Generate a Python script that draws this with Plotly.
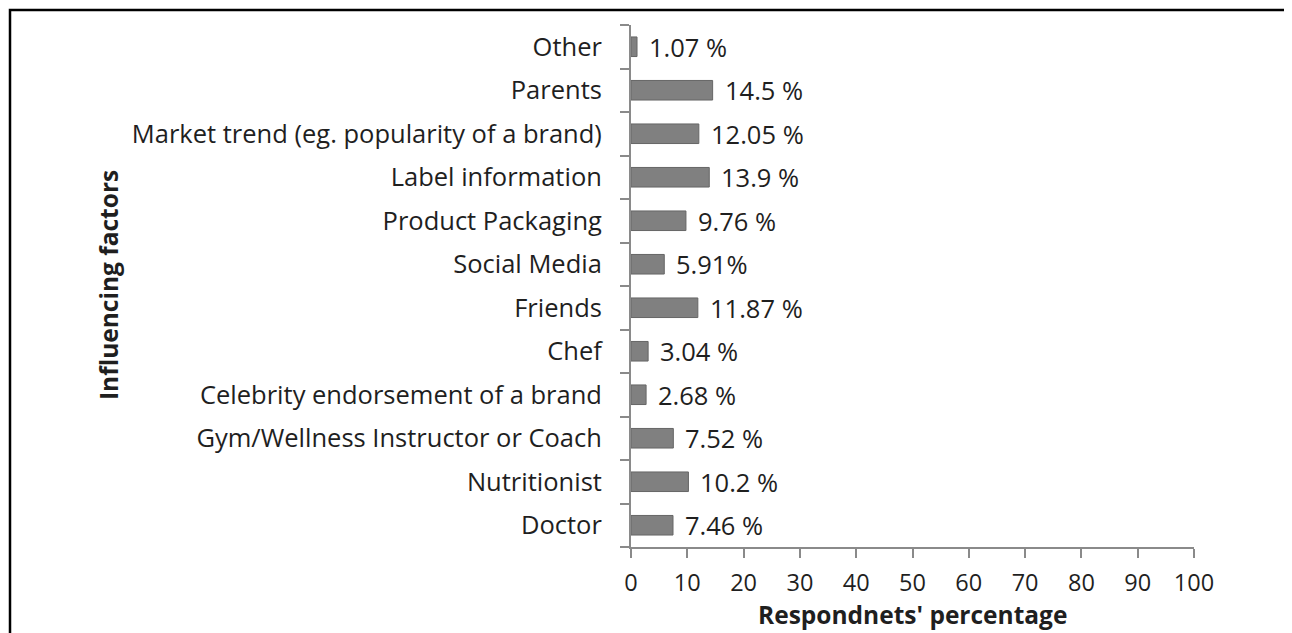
import plotly.graph_objects as go

categories = ["Doctor", "Nutritionist", "Gym/Wellness Instructor or Coach",
              "Celebrity endorsement of a brand", "Chef", "Friends", "Social Media",
              "Product Packaging", "Label information",
              "Market trend (eg. popularity of a brand)", "Parents", "Other"]
values = [7.46, 10.2, 7.52, 2.68, 3.04, 11.87, 5.91, 9.76, 13.9, 12.05, 14.5, 1.07]
labels = ["7.46 %", "10.2 %", "7.52 %", "2.68 %", "3.04 %", "11.87 %", "5.91%",
          "9.76 %", "13.9 %", "12.05 %", "14.5 %", "1.07 %"]
x_ticks = [0, 10, 20, 30, 40, 50, 60, 70, 80, 90, 100]

FONT = "Open Sans"
FS = 24.5
TXT = "#1f1f1f"
AX = "#8a8a8a"
OFF = 8  # page body margin

W, H = 1292, 633
# target plot area in page pixels: x 631..1194, y 25..547
L = 631 - OFF
R = W - (1194 - OFF)
T = 25 - OFF
B = H - (547 - OFF)
pw, ph = W - L - R, H - T - B

def px2x(p):
    return (p - OFF - L) / pw

def py2y(p):
    return (H - B - (p - OFF)) / ph

fig = go.Figure(go.Bar(
    x=values, y=categories, orientation="h", width=0.45,
    marker=dict(color="#808080", line=dict(color="#666666", width=1)),
))

for v, c, t in zip(values, categories, labels):
    fig.add_annotation(x=v, y=c, text=t, showarrow=False, xanchor="left",
                       xshift=10, font=dict(family=FONT, size=25.5, color=TXT))

fig.add_annotation(xref="paper", yref="paper", x=px2x(108), y=py2y(285),
                   text="<b>Influencing factors</b>", textangle=-90, showarrow=False,
                   xanchor="center", yanchor="middle",
                   font=dict(family=FONT, size=FS, color=TXT))
fig.add_annotation(xref="paper", yref="paper", x=px2x(912), y=py2y(614),
                   text="<b>Respondnets' percentage</b>", showarrow=False,
                   xanchor="center", yanchor="middle",
                   font=dict(family=FONT, size=FS, color=TXT))

fig.add_shape(type="path", xref="paper", yref="paper",
              path=f"M {px2x(10)},{py2y(700)} L {px2x(10)},{py2y(10)} L {px2x(1400)},{py2y(10)}",
              line=dict(color="black", width=2.5))

fig.update_layout(
    width=W, height=H,
    margin=dict(l=L, r=R, t=T, b=B),
    paper_bgcolor="white", plot_bgcolor="white",
    showlegend=False,
    font=dict(family=FONT, size=FS, color=TXT),
    xaxis=dict(range=[0, 100], tickvals=x_ticks, showgrid=False, zeroline=False,
               showline=True, linecolor=AX, linewidth=2,
               ticks="outside", ticklen=9, tickwidth=2, tickcolor=AX,
               ticklabelstandoff=5, automargin=False,
               tickfont=dict(family=FONT, size=23.5, color=TXT)),
    yaxis=dict(categoryorder="array", categoryarray=categories,
               range=[-0.5, 11.5], showgrid=False, zeroline=False,
               showline=True, linecolor=AX, linewidth=2,
               ticks="outside", ticklen=9, tickwidth=2, tickcolor=AX,
               tickson="boundaries", ticklabelstandoff=22, automargin=False,
               tickfont=dict(family=FONT, size=25.5, color=TXT)),
)

fig.write_html("out.html")
